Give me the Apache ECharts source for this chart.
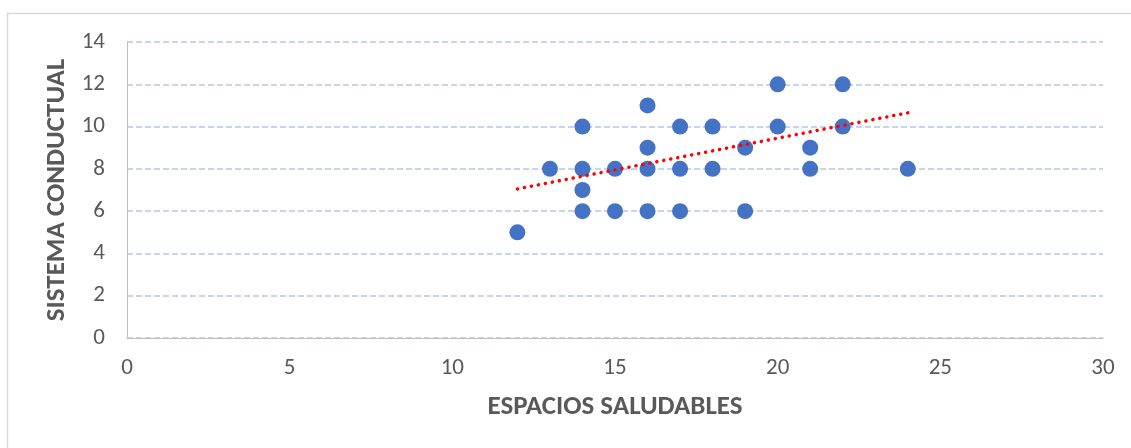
<!DOCTYPE html>
<html>
<head>
<meta charset="utf-8">
<script src="https://cdn.jsdelivr.net/npm/echarts@6/dist/echarts.min.js"></script>
<style>
  html, body { margin: 0; padding: 0; background: #fff; }
  #main { width: 1131px; height: 448px; }
</style>
</head>
<body>
<div id="main"></div>
<script>
// puntos (espacios saludables, sistema conductual)
var espacios = [12, 13, 14, 14, 14, 14, 15, 15, 16, 16, 16, 16, 17, 17, 17, 18, 18, 19, 19, 20, 20, 21, 21, 22, 22, 24]
var conductual = [5, 8, 10, 8, 7, 6, 8, 6, 11, 9, 8, 6, 10, 8, 6, 10, 8, 9, 6, 12, 10, 9, 8, 12, 10, 8]
// linea de tendencia
var trendX = [12, 24]
var trendY = [7.05, 10.65]

var font = 'Carlito, "Liberation Sans Narrow", "Open Sans", sans-serif'

var pts = espacios.map(function (x, i) { return [x, conductual[i]] })
var trend = trendX.map(function (x, i) { return [x, trendY[i]] })

var chart = echarts.init(document.getElementById('main'))
var option = {
    animation: false,
    graphic: [{
        type: 'rect',
        shape: { x: 7.5, y: 13.5, width: 1200, height: 500 },
        style: { fill: 'none', stroke: '#d9d9d9', lineWidth: 1.5 },
        silent: true
    }],
    grid: { left: 127, right: 28, top: 42, bottom: 110 },
    xAxis: {
        type: 'value',
        min: 0, max: 30, interval: 5,
        name: 'ESPACIOS SALUDABLES',
        nameLocation: 'middle',
        nameGap: 56,
        nameTextStyle: { fontFamily: font, fontSize: 27, fontWeight: 'bold', color: '#595959' },
        axisLine: { show: true, lineStyle: { color: '#bfbfbf', width: 1 } },
        axisTick: { show: false },
        splitLine: { show: false },
        axisLabel: { fontFamily: font, fontSize: 23, color: '#595959', margin: 19 }
    },
    yAxis: {
        type: 'value',
        min: 0, max: 14, interval: 2,
        name: 'SISTEMA CONDUCTUAL',
        nameLocation: 'middle',
        nameGap: 53,
        nameRotate: 90,
        nameTextStyle: { fontFamily: font, fontSize: 27, fontWeight: 'bold', color: '#595959' },
        axisLine: { show: true, lineStyle: { color: '#bfbfbf', width: 1 } },
        axisTick: { show: false },
        splitLine: { show: true, lineStyle: { color: '#b4c7e7', width: 1.5, type: [6, 3] } },
        axisLabel: { fontFamily: font, fontSize: 23, color: '#595959', margin: 22 }
    },
    series: [
        {
            type: 'scatter',
            data: pts,
            symbol: 'circle',
            symbolSize: 16,
            itemStyle: { color: '#4472c4', opacity: 1 },
            z: 2
        },
        {
            type: 'line',
            data: trend,
            symbol: 'none',
            lineStyle: { color: '#ff0000', width: 3.5, type: [0.1, 7], cap: 'round' },
            z: 3
        }
    ]
}
chart.setOption(option)
</script>
</body>
</html>
